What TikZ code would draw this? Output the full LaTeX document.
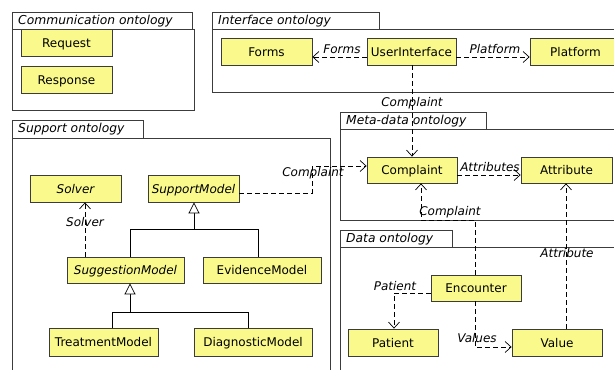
\documentclass[tikz,border=0pt]{standalone}
\usepackage{fontspec}
\setmainfont{DejaVu Sans}
\usetikzlibrary{arrows.meta}
\definecolor{boxyellow}{RGB}{250,250,140}
\definecolor{framegray}{RGB}{60,60,60}
\begin{document}
\begin{tikzpicture}[x=1pt,y=-1pt,
  font=\fontsize{12}{14}\selectfont,
  box/.style={draw=framegray,line width=0.8pt,fill=boxyellow,inner sep=0pt,minimum height=27pt,minimum width=91pt,text depth=0pt,text height=9pt},
  abox/.style={box,font=\fontsize{12}{14}\selectfont\itshape},
  frame/.style={draw=framegray,line width=0.8pt},
  ptitle/.style={anchor=west,inner sep=0pt,font=\fontsize{12.3}{14}\selectfont\itshape},
  dep/.style={draw=black,line width=0.7pt,dash pattern=on 5pt off 3pt,-{Straight Barb[length=6pt,width=11pt]}},
  gen/.style={draw=black,line width=0.7pt,-{Triangle[open,length=11pt,width=11pt,fill=white]}},
  genl/.style={draw=black,line width=0.7pt},
  lbl/.style={inner sep=0pt,font=\fontsize{12}{14}\selectfont\itshape}]
\clip (0,0) rectangle (614,370);
\fill[white] (0,0) rectangle (614,370);
% packages
\draw[frame] (12,12) rectangle (192,29);
\draw[frame] (12,29) rectangle (194,110);
\node[ptitle] (tcomm) at (18,21) {Communication ontology};
\draw[frame] (212,12) rectangle (379,29);
\draw[frame] (212,29) rectangle (625,92);
\node[ptitle] (tint) at (218,21) {Interface ontology};
\draw[frame] (12,120) rectangle (143,138);
\draw[frame] (12,138) rectangle (330,380);
\node[ptitle] (tsup) at (18,129) {Support ontology};
\draw[frame] (340,112) rectangle (486,129);
\draw[frame] (340,129) rectangle (625,220);
\node[ptitle] (tmeta) at (346,121) {Meta-data ontology};
\draw[frame] (340,230) rectangle (452,247);
\draw[frame] (340,247) rectangle (625,380);
\node[ptitle] (tdata) at (346,239) {Data ontology};
% classes
\node[box] (req) at (66.5,42.5) {Request};
\node[box] (resp) at (66.5,79.5) {Response};
\node[box] (forms) at (266.5,51.5) {Forms};
\node[box,minimum width=89pt] (ui) at (411.5,51.5) {UserInterface};
\node[box] (plat) at (575.5,51.5) {Platform};
\node[box,minimum width=90pt,minimum height=26pt] (compl) at (412,170) {Complaint};
\node[box,minimum height=26pt] (attr) at (566.5,170) {Attribute};
\node[abox] (solver) at (75.5,188.5) {Solver};
\node[abox] (supm) at (193.5,188.5) {SupportModel};
\node[abox,minimum width=117pt,minimum height=26pt] (sugm) at (125.5,270) {SuggestionModel};
\node[box,minimum width=118pt,minimum height=26pt] (evim) at (262,270) {EvidenceModel};
\node[box,minimum width=109pt,minimum height=28pt] (trem) at (103.5,342) {TreatmentModel};
\node[box,minimum width=118pt,minimum height=28pt] (diam) at (253,342) {DiagnosticModel};
\node[box,minimum width=90pt,minimum height=26pt] (enc) at (476,288) {Encounter};
\node[box,minimum width=90pt] (pat) at (393,342.5) {Patient};
\node[box,minimum width=90pt] (val) at (557,342.5) {Value};
% generalizations
\coordinate (j1) at (194,229);
\coordinate (j2) at (130,312);
\draw[genl] ([xshift=4.5pt]sugm.north) |- (j1);
\draw[genl] ([xshift=-4pt]evim.north) |- (j1);
\draw[gen] (j1) -- ([xshift=0.5pt]supm.south);
\draw[genl] ([xshift=8.5pt]trem.north) |- (j2);
\draw[genl] ([xshift=-5pt]diam.north) |- (j2);
\draw[gen] (j2) -- ([xshift=4.5pt]sugm.south);
% dependencies
\draw[dep] ([yshift=-5.5pt]ui.west) -- ([yshift=-5.5pt]forms.east);
\node[lbl] (lforms) at (342,49) {Forms};
\draw[dep] ([yshift=-5.5pt]ui.east) -- ([yshift=-5.5pt]plat.west);
\node[lbl] (lplat) at (495,49) {Platform};
\draw[dep] ([xshift=0.5pt]ui.south) -- (compl.north);
\node[lbl] (lc1) at (412,103) {Complaint};
\coordinate (s1) at (312,193);
\coordinate (s2) at (312,166);
\draw[dep] ([yshift=-4.5pt]supm.east) -- (s1) -- (s2) -- ([yshift=4pt]compl.west);
\node[lbl] (lc2) at (313,173) {Complaint};
\draw[dep] ([yshift=-5pt]compl.east) -- ([yshift=-5pt]attr.west);
\node[lbl] (lattrs) at (490,167) {Attributes};
\coordinate (e1) at (475,220);
\coordinate (e2) at (421,220);
\draw[dep] ([xshift=-1pt]enc.north) -- (e1) -- (e2) -- ([xshift=9pt]compl.south);
\node[lbl] (lc3) at (450,212) {Complaint};
\coordinate (p1) at (394,293);
\draw[dep] ([yshift=-5pt]enc.west) -- (p1) -- ([xshift=1pt]pat.north);
\node[lbl] (lpat) at (395,286) {Patient};
\coordinate (v1) at (475,347);
\draw[dep] ([xshift=-1pt]enc.south) -- (v1) -- ([yshift=-4.5pt]val.west);
\node[lbl] (lval) at (477,338) {Values};
\draw[dep] ([xshift=9pt]val.north) -- ([xshift=-0.5pt]attr.south);
\node[lbl] (lattr) at (567,253) {Attribute};
\draw[dep] ([xshift=-40.5pt]sugm.north) -- ([xshift=9.5pt]solver.south);
\node[lbl] (lsolv) at (85,222) {Solver};
\end{tikzpicture}
\end{document}
